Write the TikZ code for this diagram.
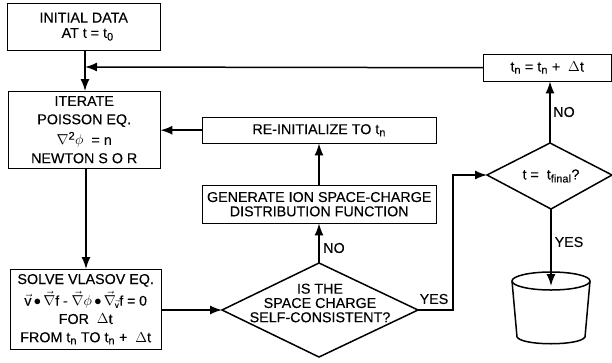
\documentclass[tikz,border=0pt]{standalone}
\usepackage{fontspec}
\setmainfont[FakeBold=0.25]{Liberation Sans}
\usetikzlibrary{arrows.meta,shapes.geometric}
\newcommand{\vc}[1]{$\vec{\mbox{#1}}$}
\newcommand{\vcn}{$\vec{\nabla}$}
\newcommand{\subtn}{t$_{\mbox{\fontsize{11}{11}\selectfont n}}$}
\newcommand{\fnt}{\fontsize{14.3}{14.3}\selectfont}
\tikzset{
  x=1pt,y=-1pt,
  line width=1.6pt,
  lbl/.style={font=\fnt,align=center,inner sep=0pt},
  boxx/.style={draw,inner sep=0pt,align=center,font=\fnt},
  flow/.style={-{Latex[length=12pt,width=9pt]},line width=1.5pt},
}
\begin{document}
\begin{tikzpicture}
\useasboundingbox (0,0) rectangle (612,362);
\path[fill=white] (0,0) rectangle (612,362);
\node[boxx,minimum width=153pt,minimum height=47pt,anchor=north west] (init) at (7,3) {INITIAL DATA\\[1pt]\ \ AT t = t$_{\mbox{\fontsize{11}{11}\selectfont 0}}$};
\node[boxx,minimum width=152pt,minimum height=77pt,anchor=north west] (iter) at (8,91) {ITERATE\\[4pt]POISSON EQ.\\[4pt]$\nabla^{\mbox{\fontsize{11}{11}\selectfont 2}}\phi$\ \ = n\\[4pt]NEWTON S O R};
\node[boxx,minimum width=151pt,minimum height=80pt,anchor=north west] (solve) at (10,269) {SOLVE VLASOV EQ.\\[4pt]{\fontsize{14}{14}\selectfont \vc{v}\,$\bullet$\,\vcn f - \vcn$\phi$\,$\bullet$\,\vcn\kern-1pt$_{\vec{\mbox{\fontsize{8}{8}\selectfont v}}}$f = 0}\\[4pt]FOR\ \ $\Delta$t\\[4pt]FROM \subtn{} TO \subtn{} +\ \ $\Delta$t};
\node[boxx,minimum width=234pt,minimum height=26pt,anchor=north west] (reinit) at (202,117) {RE-INITIALIZE TO \subtn};
\node[boxx,minimum width=234pt,minimum height=38pt,anchor=north west] (gen) at (202,185) {GENERATE ION SPACE-CHARGE\\[0pt]DISTRIBUTION FUNCTION};
\node[boxx,minimum width=128pt,minimum height=27pt,anchor=north west] (tn) at (483,54) {\subtn{} = \subtn{} +\ \ $\Delta$t};
\coordinate (sc) at (319,310);
\draw[line width=1.5pt] (222,310) coordinate (scL) -- (319,263) coordinate (scT) -- (418,310) coordinate (scR) -- (319,357) -- cycle;
\node[lbl] (sctext) at (320,303) {IS THE\\SPACE CHARGE\\SELF-CONSISTENT?};
\draw[line width=1.5pt] (487,175) coordinate (fL) -- (550,143) coordinate (fT) -- (612,175) -- (551,209) coordinate (fB) -- cycle;
\node[lbl] (ftext) at (551,176) {t =\ \ t$_{\mbox{\fontsize{11}{11}\selectfont final}}$?};
% connectors
\coordinate (joinpt) at (85,67);
\coordinate (bucketin) at (551,286);
\coordinate (yesc) at (453,310);
\coordinate (yesd) at (453,175);
\draw[flow] (init.south -| joinpt) -- (iter.north -| joinpt);
\draw[flow] (tn.west) -- (joinpt);
\draw[flow] (reinit.west) -- (iter.east |- reinit.west);
\draw[flow] (iter.south -| 86,0) -- (solve.north -| 86,0);
\draw[flow] (solve.east |- sc) -- (scL);
\draw[flow] (scT) -- (gen.south -| scT);
\draw[flow] (gen.north -| scT) -- (reinit.south -| scT);
\draw[flow] (scR) -- (yesc) -- (yesd) -- (fL);
\draw[flow] (fT) -- (tn.south -| fT);
\draw[flow] (fB) -- (bucketin);
% labels
\node[lbl] (no1) at (334,248) {NO};
\node[lbl] (yes1) at (434,299) {YES};
\node[lbl] (no2) at (564,112) {NO};
\node[lbl] (yes2) at (569,242) {YES};
% bucket
\draw[line width=1.5pt] (551,281) ellipse (39pt and 9pt);
\draw[line width=1.5pt] (512,281) -- (517,337) .. controls (522,346) and (580,346) .. (585,337) -- (590,281);
\end{tikzpicture}
\end{document}
